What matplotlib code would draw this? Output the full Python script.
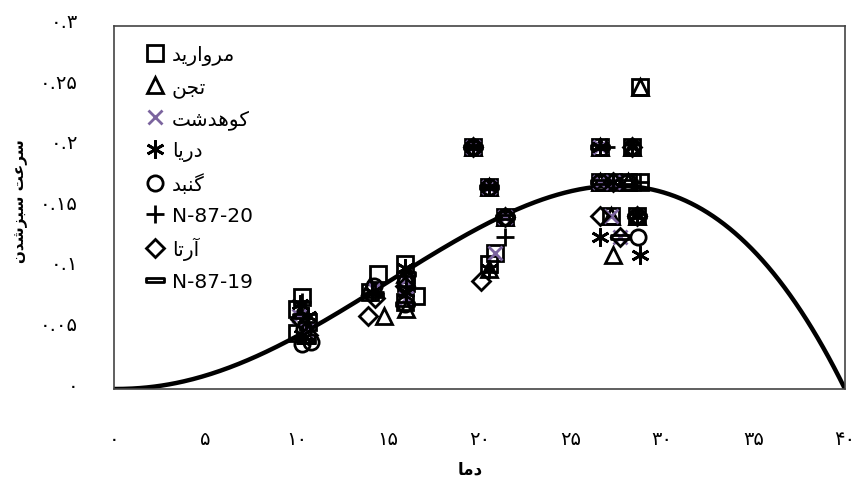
import numpy as np
import matplotlib
matplotlib.use('Agg')
import matplotlib.pyplot as plt
import matplotlib.transforms as mtransforms
from matplotlib.path import Path
from matplotlib.ticker import FuncFormatter, MultipleLocator

# Presentation forms: isolated, final, initial, medial
FORMS = {
    'ا': ('\uFE8D', '\uFE8E', None, None),
    'آ': ('\uFE81', '\uFE82', None, None),
    'ب': ('\uFE8F', '\uFE90', '\uFE91', '\uFE92'),
    'ت': ('\uFE95', '\uFE96', '\uFE97', '\uFE98'),
    'ج': ('\uFE9D', '\uFE9E', '\uFE9F', '\uFEA0'),
    'د': ('\uFEA9', '\uFEAA', None, None),
    'ر': ('\uFEAD', '\uFEAE', None, None),
    'ز': ('\uFEAF', '\uFEB0', None, None),
    'س': ('\uFEB1', '\uFEB2', '\uFEB3', '\uFEB4'),
    'ش': ('\uFEB5', '\uFEB6', '\uFEB7', '\uFEB8'),
    'ع': ('\uFEC9', '\uFECA', '\uFECB', '\uFECC'),
    'م': ('\uFEE1', '\uFEE2', '\uFEE3', '\uFEE4'),
    'ن': ('\uFEE5', '\uFEE6', '\uFEE7', '\uFEE8'),
    'ه': ('\uFEE9', '\uFEEA', '\uFEEB', '\uFEEC'),
    'و': ('\uFEED', '\uFEEE', None, None),
    'ی': ('\uFBFC', '\uFBFD', '\uFBFE', '\uFBFF'),
    'ک': ('\uFB8E', '\uFB8F', '\uFB90', '\uFB91'),
    'گ': ('\uFB92', '\uFB93', '\uFB94', '\uFB95'),
}


def fa(text):
    """Join Persian letters and flip to visual order (matplotlib has no bidi)."""
    out = []
    for i, ch in enumerate(text):
        if ch not in FORMS:
            out.append(ch)
            continue
        iso, fin, ini, med = FORMS[ch]
        prev = text[i - 1] if i > 0 else ''
        nxt = text[i + 1] if i + 1 < len(text) else ''
        jp = prev in FORMS and FORMS[prev][2] is not None
        jn = ini is not None and nxt in FORMS
        if jp and jn:
            out.append(med)
        elif jp:
            out.append(fin)
        elif jn:
            out.append(ini)
        else:
            out.append(iso)
    return ''.join(reversed(out))


FA_DIGITS = str.maketrans('0123456789', '۰۱۲۳۴۵۶۷۸۹')


def fa_num(v, pos=None):
    return ('%g' % round(v, 4)).translate(FA_DIGITS)


# greening rate per cultivar: temperature (C) and rate (1/day)
morvarid_t = [10.3, 10.0, 10.6, 10.0, 14.45, 14.0, 15.9, 16.0, 15.9, 16.5, 19.65, 20.5,
              21.4, 20.85, 20.5, 26.6, 28.35, 26.6, 27.3, 28.1, 28.8, 27.2, 28.6, 28.8]
morvarid_r = [0.076, 0.066, 0.055, 0.046, 0.095, 0.080, 0.103, 0.088, 0.072, 0.077, 0.200, 0.167,
              0.142, 0.112, 0.103, 0.200, 0.200, 0.171, 0.171, 0.171, 0.171, 0.143, 0.143, 0.250]
tajan_t = [10.3, 10.5, 14.0, 14.8, 15.9, 16.0, 19.65, 20.5, 21.4, 20.5, 26.6, 28.35,
           26.6, 28.1, 27.2, 28.6, 27.3, 28.8]
tajan_r = [0.066, 0.045, 0.085, 0.060, 0.095, 0.066, 0.200, 0.167, 0.142, 0.099, 0.200, 0.200,
           0.171, 0.171, 0.143, 0.143, 0.111, 0.250]
kohdasht_t = [10.1, 10.5, 14.2, 15.9, 16.0, 19.65, 20.5, 21.4, 20.85, 26.6, 26.6, 27.3, 27.2, 27.7]
kohdasht_r = [0.060, 0.050, 0.083, 0.090, 0.075, 0.200, 0.167, 0.142, 0.112, 0.200, 0.171, 0.171,
              0.143, 0.126]
darya_t = [10.2, 10.6, 10.3, 14.1, 15.9, 16.0, 19.65, 20.5, 20.5, 26.6, 28.35, 27.3, 28.6, 26.6, 28.8]
darya_r = [0.070, 0.060, 0.045, 0.080, 0.100, 0.080, 0.200, 0.167, 0.099, 0.200, 0.200, 0.171,
           0.143, 0.126, 0.111]
gonbad_t = [10.4, 10.8, 10.3, 14.2, 16.0, 15.9, 19.65, 20.5, 21.4, 26.6, 28.1, 28.6, 28.7, 28.35]
gonbad_r = [0.050, 0.039, 0.037, 0.085, 0.090, 0.070, 0.200, 0.167, 0.142, 0.171, 0.171, 0.143,
            0.126, 0.200]
n8720_t = [10.3, 10.5, 14.3, 16.0, 19.65, 20.5, 21.4, 26.9, 28.8]
n8720_r = [0.072, 0.055, 0.080, 0.085, 0.200, 0.167, 0.126, 0.200, 0.171]
arta_t = [10.2, 10.6, 13.9, 14.3, 15.9, 19.65, 20.1, 21.4, 26.6, 27.7, 28.35, 27.3, 28.6]
arta_r = [0.058, 0.045, 0.060, 0.075, 0.085, 0.200, 0.089, 0.142, 0.143, 0.126, 0.200, 0.171, 0.143]
n8719_t = [10.3, 10.5, 14.2, 16.0, 15.9, 19.65, 20.5, 21.4, 26.6, 26.6, 27.7, 28.1, 28.6]
n8719_r = [0.060, 0.040, 0.078, 0.095, 0.070, 0.200, 0.167, 0.142, 0.200, 0.171, 0.126, 0.171, 0.143]

# fitted beta model: base, optimum, ceiling temperature and max rate
t_base, t_opt, t_ceil, r_max = 0.0, 27.5, 40.0, 0.168

plt.rcParams['font.family'] = ['DejaVu Sans']

fig = plt.figure(figsize=(8.56, 4.81), dpi=100)
ax = fig.add_axes([114 / 856, 1 - 390 / 481, 731 / 856, 363 / 481])

t = np.linspace(t_base, t_ceil, 400)
rate = r_max * ((t_ceil - t) / (t_ceil - t_opt)) * \
    ((t - t_base) / (t_opt - t_base)) ** ((t_opt - t_base) / (t_ceil - t_opt))
ax.plot(t, rate, color='black', lw=3.2, zorder=2, solid_capstyle='round')

dash = Path([(-1, -0.22), (1, -0.22), (1, 0.22), (-1, 0.22), (-1, -0.22)],
            [Path.MOVETO, Path.LINETO, Path.LINETO, Path.LINETO, Path.CLOSEPOLY])

series = [
    (morvarid_t, morvarid_r, fa('مروارید'), dict(marker='s', ms=12, mec='black')),
    (tajan_t, tajan_r, fa('تجن'), dict(marker='^', ms=12, mec='black')),
    (kohdasht_t, kohdasht_r, fa('کوهدشت'), dict(marker='x', ms=10, mec='#7b649e')),
    (darya_t, darya_r, fa('دریا'), dict(marker=(6, 2, 0), ms=13, mec='black')),
    (gonbad_t, gonbad_r, fa('گنبد'), dict(marker='o', ms=11, mec='black')),
    (n8720_t, n8720_r, 'N-87-20', dict(marker='+', ms=13, mec='black')),
    (arta_t, arta_r, fa('آرتا'), dict(marker='D', ms=9, mec='black')),
    (n8719_t, n8719_r, 'N-87-19', dict(marker=dash, ms=13, mec='black')),
]
for xs, ys, name, style in series:
    ax.plot(xs, ys, ls='none', mfc='none', mew=2, label=name, zorder=3, **style)

ax.set_xlim(0, 40)
ax.set_ylim(0, 0.3)
ax.xaxis.set_major_locator(MultipleLocator(5))
ax.yaxis.set_major_locator(MultipleLocator(0.05))
ax.xaxis.set_major_formatter(FuncFormatter(fa_num))
ax.yaxis.set_major_formatter(FuncFormatter(fa_num))
ax.tick_params(axis='x', length=0, pad=29, labelsize=14)
ax.tick_params(axis='y', length=0, pad=26, labelsize=14)
# the y labels sit a little above their gridline
lift = mtransforms.ScaledTranslation(0, 6 / 100, fig.dpi_scale_trans)
for lbl in ax.get_yticklabels():
    lbl.set_transform(lbl.get_transform() + lift)
for s in ax.spines.values():
    s.set_color('#444444')
    s.set_linewidth(1.2)

ax.set_xlabel(fa('دما'), fontsize=12, fontweight='bold')
ax.xaxis.set_label_coords(0.487, -0.195)
ax.set_ylabel(fa('سرعت سبزشدن'), fontsize=11, fontweight='bold')
ax.yaxis.set_label_coords(-0.118, 0.52)

ax.legend(loc='upper left', bbox_to_anchor=(0.042, 0.948), frameon=False,
          fontsize=14.5, handlelength=1.0, handletextpad=0.35, labelspacing=0.6,
          borderaxespad=0, borderpad=0)

fig.savefig('out.png', dpi=100)
